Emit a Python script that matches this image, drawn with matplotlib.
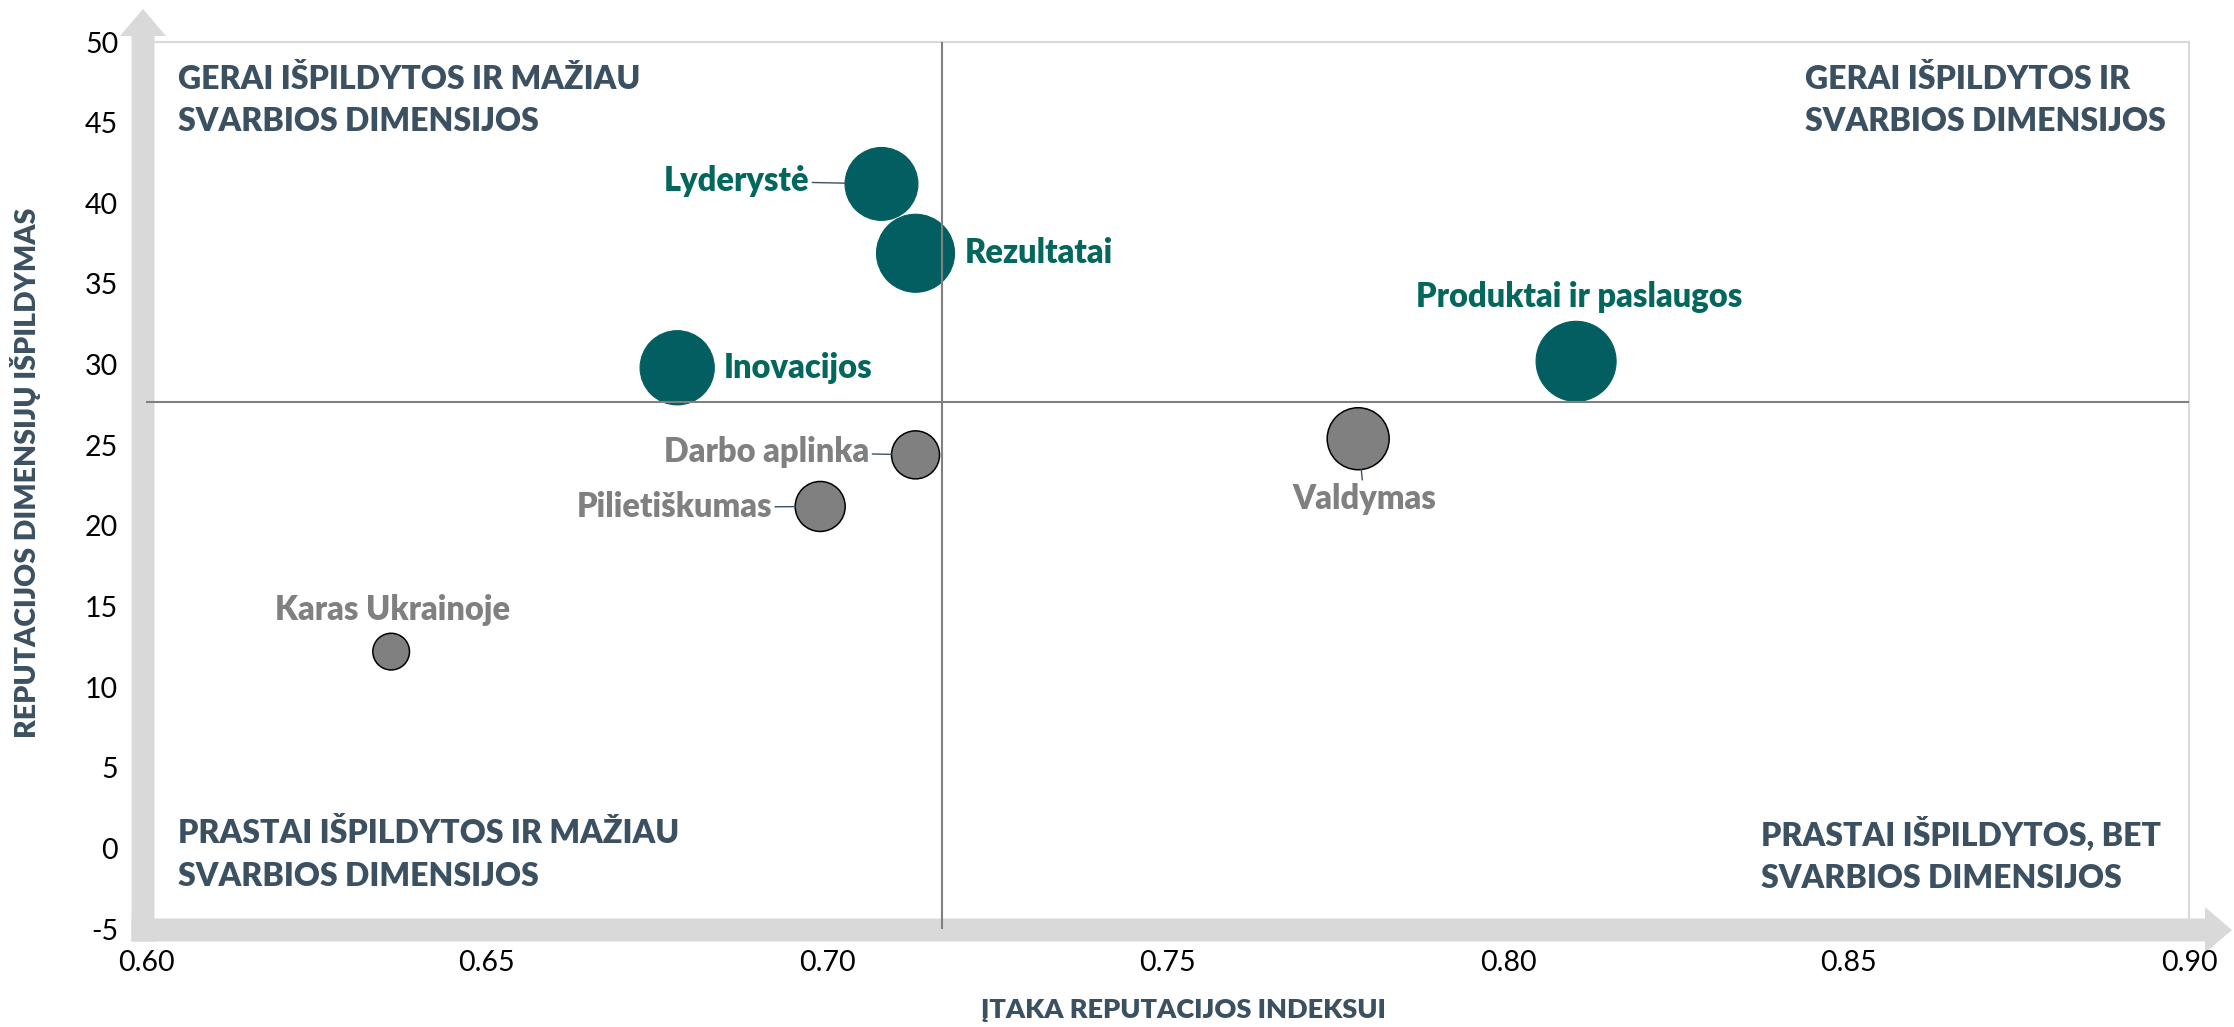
from __future__ import annotations

import matplotlib

matplotlib.use("Agg")
import matplotlib.pyplot as plt
import numpy as np
from matplotlib.patches import Polygon
from matplotlib.ticker import FormatStrFormatter
from matplotlib.transforms import IdentityTransform

# ---- data ----
dimensions = [
    "Lyderystė",
    "Rezultatai",
    "Inovacijos",
    "Produktai ir paslaugos",
    "Valdymas",
    "Darbo aplinka",
    "Pilietiškumas",
    "Karas Ukrainoje",
]
impact = np.array([0.708, 0.713, 0.678, 0.810, 0.778, 0.713, 0.699, 0.636])
performance = np.array([41.2, 36.9, 29.8, 30.2, 25.4, 24.4, 21.2, 12.2])
bubble_size = np.array([83, 95, 86, 100, 60, 36, 39, 21])

x_ticks = [0.60, 0.65, 0.70, 0.75, 0.80, 0.85, 0.90]
y_ticks = [-5, 0, 5, 10, 15, 20, 25, 30, 35, 40, 45, 50]

x_title = "ĮTAKA REPUTACIJOS INDEKSUI"
y_title = "REPUTACIJOS DIMENSIJŲ IŠPILDYMAS"
quadrant_tl = "GERAI IŠPILDYTOS IR MAŽIAU\nSVARBIOS DIMENSIJOS"
quadrant_tr = "GERAI IŠPILDYTOS IR\nSVARBIOS DIMENSIJOS"
quadrant_bl = "PRASTAI IŠPILDYTOS IR MAŽIAU\nSVARBIOS DIMENSIJOS"
quadrant_br = "PRASTAI IŠPILDYTOS, BET\nSVARBIOS DIMENSIJOS"

# ---- styling ----
TEAL = "#025E60"
TEAL_TEXT = "#03675D"
GREY = "#808080"
SLATE = "#3B5162"
BAR = "#D9D9D9"
SIZE_SCALE = 33.2  # marker area (pt^2) per bubble size unit
WEIGHT = "heavy"

# label offsets in pixels: dx, dy, ha, leader line
label_style = {
    "Lyderystė": (-72, 3, "right", True),
    "Rezultatai": (49, 0, "left", False),
    "Inovacijos": (47, 0, "left", False),
    "Produktai ir paslaugos": (3, 64, "center", False),
    "Valdymas": (6, -60, "center", True),
    "Darbo aplinka": (-46, 3, "right", True),
    "Pilietiškumas": (-48, -1, "right", True),
    "Karas Ukrainoje": (1, 42, "center", False),
}


def draw_axis_arrows(fig, ax) -> None:
    (x0, y0), _ = ax.transAxes.transform([(0, 0), (1, 1)])
    width, height = fig.bbox.width, fig.bbox.height
    hw, head_half, head_len = 11.5, 23, 27
    cx, cy = x0 - 3, y0 - 1

    tip_y = height - 9
    vertical = [
        (cx - hw, cy - hw), (cx + hw, cy - hw), (cx + hw, tip_y - head_len),
        (cx + head_half, tip_y - head_len), (cx, tip_y),
        (cx - head_half, tip_y - head_len), (cx - hw, tip_y - head_len),
    ]
    tip_x = width - 2
    horizontal = [
        (cx - hw, cy - hw), (tip_x - head_len, cy - hw),
        (tip_x - head_len, cy - head_half), (tip_x, cy),
        (tip_x - head_len, cy + head_half), (tip_x - head_len, cy + hw),
        (cx - hw, cy + hw),
    ]
    for pts in (vertical, horizontal):
        fig.add_artist(Polygon(pts, closed=True, transform=IdentityTransform(),
                               facecolor=BAR, edgecolor="none", zorder=-1))


def main() -> None:
    plt.rcParams["font.family"] = ["Lato", "DejaVu Sans"]
    plt.rcParams["axes.unicode_minus"] = False

    fig = plt.figure(figsize=(22.34, 10.27), dpi=100)
    fig.patch.set_facecolor("white")
    ax = fig.add_axes([146 / 2234, 1 - 929 / 1027, 2043 / 2234, 887 / 1027])
    ax.patch.set_visible(False)

    ax.set_xlim(x_ticks[0], x_ticks[-1])
    ax.set_ylim(y_ticks[0], y_ticks[-1])
    ax.set_xticks(x_ticks)
    ax.set_yticks(y_ticks)
    ax.xaxis.set_major_formatter(FormatStrFormatter("%.2f"))
    ax.tick_params(length=0, labelsize=20.5, colors="black")
    ax.tick_params(axis="y", pad=20)
    ax.tick_params(axis="x", pad=15)
    for side in ("left", "bottom"):
        ax.spines[side].set_visible(False)
    for side in ("top", "right"):
        ax.spines[side].set_color(BAR)
        ax.spines[side].set_linewidth(1.5)

    # quadrant split at the averages
    ax.axvline(impact.mean(), color=GREY, lw=1.5, zorder=3)
    ax.axhline(performance.mean(), color=GREY, lw=1.5, zorder=3)

    strong = performance > performance.mean()
    sizes = bubble_size * SIZE_SCALE
    ax.scatter(impact[strong], performance[strong], s=sizes[strong],
               color=TEAL, edgecolor=TEAL, linewidth=0.8, zorder=2)
    ax.scatter(impact[~strong], performance[~strong], s=sizes[~strong],
               color=GREY, edgecolor="black", linewidth=1.1, zorder=2)

    for i, name in enumerate(dimensions):
        dx, dy, ha, leader = label_style[name]
        color = TEAL_TEXT if strong[i] else GREY
        arrowprops = None
        if leader:
            arrowprops = dict(arrowstyle="-", color=SLATE, lw=1,
                              shrinkA=0, shrinkB=np.sqrt(sizes[i]) / 2)
        ax.annotate(name, xy=(impact[i], performance[i]), xytext=(dx, dy),
                    textcoords="offset pixels", ha=ha, va="center",
                    fontsize=23.5, fontweight=WEIGHT, color=color,
                    arrowprops=arrowprops, zorder=4)

    quad_kw = dict(transform=ax.transAxes, fontsize=23, fontweight=WEIGHT,
                   color=SLATE, va="center", multialignment="left",
                   linespacing=1.55)
    ax.text(0.0157, 0.935, quadrant_tl, ha="left", **quad_kw)
    ax.text(0.9888, 0.935, quadrant_tr, ha="right", **quad_kw)
    ax.text(0.0157, 0.084, quadrant_bl, ha="left", **quad_kw)
    ax.text(0.9863, 0.084, quadrant_br, ha="right", **quad_kw)

    fig.text(1183 / 2234, 1 - 1010 / 1027, x_title, ha="center", va="center",
             fontsize=19.5, fontweight=WEIGHT, color=SLATE)
    fig.text(26 / 2234, 1 - 473 / 1027, y_title, ha="center", va="center",
             rotation=90, fontsize=20.5, fontweight=WEIGHT, color=SLATE)

    draw_axis_arrows(fig, ax)

    fig.savefig("out.png", dpi=100, facecolor="white")
    plt.close(fig)


if __name__ == "__main__":
    main()
